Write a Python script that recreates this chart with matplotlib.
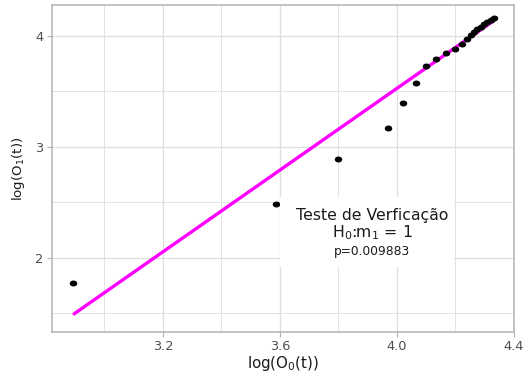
import numpy as np
import matplotlib
matplotlib.use("Agg")
import matplotlib.pyplot as plt
from matplotlib.path import Path
from matplotlib.patches import Rectangle

plt.rcParams['font.family'] = ['DejaVu Sans']
plt.rcParams['mathtext.default'] = 'regular'

# ---- data ----
log_o0 = [2.893, 3.588, 3.800, 3.970, 4.021, 4.065, 4.100, 4.134, 4.168, 4.198,
          4.222, 4.239, 4.253, 4.263, 4.273, 4.287, 4.297, 4.307, 4.321, 4.331]
log_o1 = [1.775, 2.486, 2.892, 3.171, 3.396, 3.577, 3.730, 3.793, 3.847, 3.883,
          3.928, 3.973, 4.009, 4.036, 4.063, 4.081, 4.108, 4.126, 4.144, 4.162]
fit_intercept = -3.837
fit_slope = 1.8413
x_ticks = [3.2, 3.6, 4.0, 4.4]
x_tick_labels = ["3.2", "3.6", "4.0", "4.4"]
x_minor = [3.0, 3.4, 3.8, 4.2]
y_ticks = [2, 3, 4]
y_tick_labels = ["2", "3", "4"]
y_minor = [1.5, 2.5, 3.5]
annot_title = "Teste de Verficação"
annot_hyp = "H$_0$:m$_1$ = 1"
annot_p = "p=0.009883"

fig = plt.figure(figsize=(5.26, 3.73), dpi=100)
ax = fig.add_axes([52/526, 1-332/373, (514-52)/526, (332-5)/373])
ax.set_xlim(2.821, 4.398)
ax.set_ylim(1.333, 4.279)

grid_c = "#DEDEDE"
for v in x_ticks + x_minor:
    ax.axvline(v, color=grid_c, lw=0.9 if v in x_ticks else 0.6, zorder=0)
for v in y_ticks + y_minor:
    ax.axhline(v, color=grid_c, lw=0.9 if v in y_ticks else 0.6, zorder=0)

# fitted line
fx = np.array([log_o0[0], log_o0[-1]])
fy = fit_intercept + fit_slope * fx
ax.plot(fx, fy, color="#FF00FF", lw=2.4, solid_capstyle="butt", zorder=2)

# points (slightly wide ellipse like the stretched original)
circ = Path.unit_circle()
ell = Path(circ.vertices * np.array([1.35, 1.0]), circ.codes)
ax.plot(log_o0, log_o1, linestyle="none", marker=ell, markersize=4.4,
        color="black", zorder=3)

# annotation box
ax.add_patch(Rectangle((3.599, 1.919), 0.596, 0.631, facecolor="white",
                       edgecolor="none", zorder=4))
ax.text(3.915, 2.387, annot_title, ha="center", va="center", fontsize=11.3,
        color="#1a1a1a", zorder=5)
ax.text(3.915, 2.226, annot_hyp, ha="center", va="center", fontsize=11.3,
        color="#1a1a1a", zorder=5)
ax.text(3.915, 2.054, annot_p, ha="center", va="center", fontsize=8.8,
        color="#1a1a1a", zorder=5)

ax.set_xticks(x_ticks)
ax.set_xticklabels(x_tick_labels)
ax.set_yticks(y_ticks)
ax.set_yticklabels(y_tick_labels)
ax.tick_params(axis="both", colors="#B3B3B3", labelcolor="#4D4D4D",
               labelsize=9.3, length=3.5, width=0.8, pad=2.5)
for s in ax.spines.values():
    s.set_color("#B3B3B3")
    s.set_linewidth(1.1)

ax.set_xlabel("log(O$_0$(t))", fontsize=10.8, color="#1a1a1a", labelpad=0.5)
ax.set_ylabel("log(O$_1$(t))", fontsize=9.6, color="#1a1a1a", labelpad=6)

fig.savefig("out.png", dpi=100)
